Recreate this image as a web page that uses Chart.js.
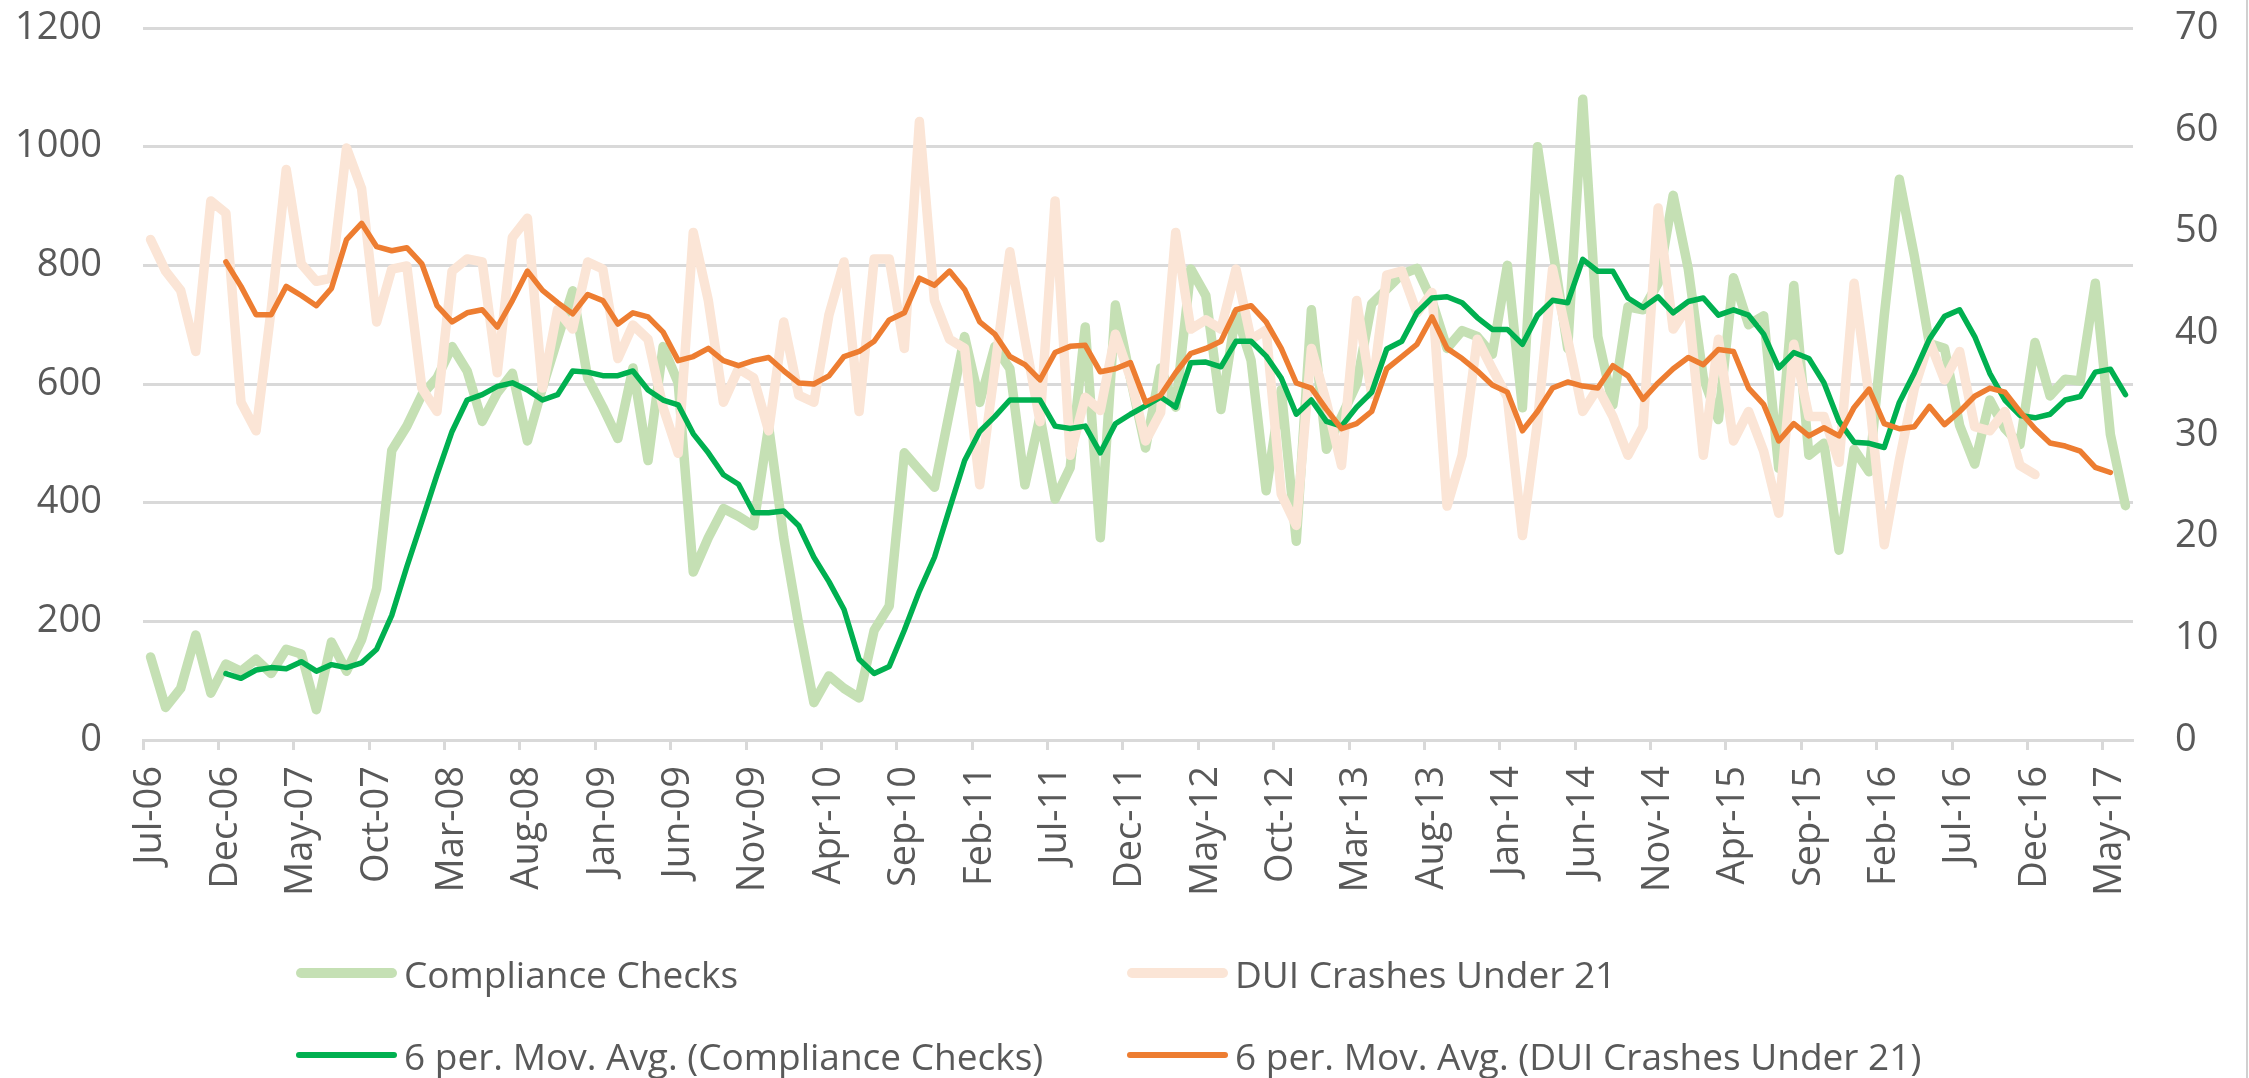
<!DOCTYPE html>
<html>
<head>
<meta charset="utf-8">
<script src="https://cdn.jsdelivr.net/npm/chart.js@4.4.1/dist/chart.umd.min.js"></script>
<style>
  html, body { margin: 0; padding: 0; background: #fff; }
  #wrap { position: relative; width: 2249px; height: 1078px; overflow: hidden; }
  #chart { position: absolute; left: 0; top: 0; }
  .edge { position: absolute; left: 2246px; top: 0; width: 2px; height: 1078px; background: #d0d0d0; }
  .lg-line { position: absolute; border-radius: 6px; }
  .lg-text { position: absolute; font-family: "Open Sans", "Noto Sans", sans-serif; font-size: 37px;
             color: #595959; white-space: nowrap; transform: translateY(-50%); line-height: 1; }
</style>
</head>
<body>
<div id="wrap">
  <canvas id="chart" width="2249" height="1078"></canvas>
  <div class="edge"></div>
  <div id="legend"></div>
</div>
<script>
// months Jul-06 .. Jun-17
const monthNames = ["Jan", "Feb", "Mar", "Apr", "May", "Jun", "Jul", "Aug", "Sep", "Oct", "Nov", "Dec"];
const startMonth = 6, startYear = 2006, monthCount = 132;

const complianceChecks = [
  140, 55, 87, 177, 79, 128, 116, 136, 112, 153,
  145, 51, 165, 116, 169, 255, 488, 529, 582, 610,
  663, 622, 537, 585, 618, 504, 594, 676, 757, 610,
  561, 508, 627, 471, 663, 602, 283, 341, 390, 377,
  361, 528, 341, 194, 63, 108, 87, 71, 185, 226,
  484, 455, 426, 553, 680, 569, 663, 626, 430, 545,
  406, 459, 696, 341, 733, 610, 492, 627, 561, 794,
  749, 557, 720, 640, 420, 590, 335, 725, 490, 545,
  600, 735, 760, 785, 795, 740, 660, 690, 680, 650,
  800, 560, 1000, 830, 660, 1080, 680, 565, 730, 725,
  770, 918, 794, 610, 540, 779, 700, 715, 458, 766,
  480, 500, 320, 490, 452, 715, 945, 815, 668, 660,
  530, 465, 573, 525, 498, 670, 580, 608, 605, 770,
  515, 395
];

const duiCrashes = [
  49.2, 46.1, 44.2, 38.2, 53.0, 51.8, 33.2, 30.4, 42.3, 56.1,
  46.8, 45.1, 45.4, 58.2, 54.2, 41.1, 46.3, 46.6, 34.6, 32.3,
  46.1, 47.3, 47.0, 36.1, 49.4, 51.3, 34.6, 42.3, 40.4, 47.0,
  46.3, 37.5, 40.8, 39.4, 32.7, 28.2, 49.9, 43.2, 33.2, 36.5,
  35.6, 30.4, 41.1, 33.9, 33.2, 41.8, 47.0, 32.3, 47.3, 47.3,
  38.5, 60.8, 43.2, 39.4, 38.5, 25.1, 36.5, 48.0, 39.4, 31.3,
  53.0, 28.0, 33.7, 32.4, 39.9, 35.6, 29.4, 32.2, 49.9, 40.4,
  41.3, 40.4, 46.3, 39.4, 40.3, 24.2, 21.1, 38.5, 33.2, 27.0,
  43.2, 34.0, 45.7, 46.1, 42.0, 44.0, 23.0, 28.0, 39.4, 36.5,
  33.7, 20.1, 31.3, 46.3, 39.4, 32.3, 34.6, 31.8, 28.0, 30.8,
  52.3, 40.4, 42.7, 28.0, 39.4, 29.4, 32.3, 28.4, 22.3, 38.9,
  31.8, 31.8, 27.3, 44.9, 33.7, 19.2, 27.5, 34.6, 39.2, 35.4,
  38.2, 30.8, 30.4, 32.3, 27.0, 26.1
];

// 6 per. moving averages as drawn (first five months empty)
const complianceAvg = [
  null, null, null, null, null, 112, 104, 118, 122, 120,
  132, 116, 127, 122, 130, 153, 210, 292, 369, 447,
  520, 573, 582, 596, 602, 590, 573, 582, 622, 620,
  614, 614, 622, 590, 573, 565, 516, 484, 447, 431,
  383, 383, 386, 361, 308, 267, 220, 136, 112, 124,
  185, 251, 308, 390, 471, 520, 545, 573, 573, 573,
  529, 525, 529, 484, 533, 549, 563, 578, 561, 636,
  637, 629, 672, 672, 647, 610, 549, 573, 537, 529,
  561, 586, 659, 672, 720, 745, 747, 737, 712, 692,
  692, 667, 716, 741, 737, 810, 790, 790, 745, 729,
  747, 720, 739, 745, 716, 725, 716, 684, 627, 653,
  643, 602, 537, 502, 500, 493, 569, 619, 676, 714,
  725, 680, 618, 573, 547, 543, 549, 573, 579, 620,
  625, 582
];

const duiAvg = [
  null, null, null, null, null, 47.0, 44.6, 41.8, 41.8, 44.6,
  43.7, 42.7, 44.4, 49.2, 50.8, 48.5, 48.1, 48.4, 46.8, 42.7,
  41.1, 42.0, 42.3, 40.6, 43.2, 46.1, 44.2, 43.0, 41.9, 43.8,
  43.2, 40.9, 42.0, 41.6, 40.1, 37.3, 37.7, 38.5, 37.3, 36.8,
  37.3, 37.6, 36.3, 35.1, 35.0, 35.8, 37.7, 38.2, 39.2, 41.3,
  42.0, 45.4, 44.7, 46.1, 44.3, 41.1, 39.9, 37.7, 36.9, 35.4,
  38.1, 38.7, 38.8, 36.2, 36.5, 37.1, 33.2, 33.9, 36.1, 38.0,
  38.5, 39.2, 42.3, 42.7, 41.1, 38.5, 35.1, 34.6, 32.5, 30.6,
  31.1, 32.3, 36.5, 37.7, 38.9, 41.6, 38.5, 37.5, 36.3, 34.9,
  34.2, 30.4, 32.3, 34.6, 35.2, 34.8, 34.6, 36.8, 35.8, 33.5,
  35.1, 36.5, 37.6, 36.9, 38.4, 38.2, 34.6, 33.0, 29.4, 31.1,
  29.9, 30.7, 29.9, 32.7, 34.5, 31.1, 30.6, 30.8, 32.8, 31.0,
  32.3, 33.8, 34.6, 34.2, 32.3, 30.6, 29.2, 28.9, 28.4, 26.8,
  26.3
];

const leftTicks = { min: 0, max: 1200, step: 200 };
const rightTicks = { min: 0, max: 70, step: 10 };
const labelEvery = 5;

const seriesNames = [
  "Compliance Checks",
  "DUI Crashes Under 21",
  "6 per. Mov. Avg. (Compliance Checks)",
  "6 per. Mov. Avg. (DUI Crashes Under 21)"
];
const seriesColors = ["#C5E0B4", "#FBE5D6", "#00B050", "#ED7D31"];

const labels = [];
for (let k = 0; k < monthCount; k++) {
  const m = (startMonth + k) % 12;
  const y = startYear + Math.floor((startMonth + k) / 12);
  labels.push(monthNames[m] + "-" + String(y % 100).padStart(2, "0"));
}

const tickFont = { family: "'Open Sans', 'Noto Sans', sans-serif", size: 38 };
const gridGray = "#D9D9D9";
const textGray = "#595959";

const lineStyle = {
  pointRadius: 0,
  pointHoverRadius: 0,
  tension: 0,
  borderJoinStyle: "round",
  borderCapStyle: "round",
  fill: false,
};

// keep the plot box where the source has it
function noPad(scale) {
  scale.paddingTop = 0;
  scale.paddingBottom = 0;
}

new Chart(document.getElementById("chart").getContext("2d"), {
  type: "line",
  data: {
    labels: labels,
    datasets: [
      { ...lineStyle, label: seriesNames[0], data: complianceChecks, yAxisID: "y",
        borderColor: seriesColors[0], borderWidth: 9.5, order: 3 },
      { ...lineStyle, label: seriesNames[1], data: duiCrashes, yAxisID: "y2",
        borderColor: seriesColors[1], borderWidth: 9.5, order: 2 },
      { ...lineStyle, label: seriesNames[2], data: complianceAvg, yAxisID: "y",
        borderColor: seriesColors[2], borderWidth: 5.5, order: 1 },
      { ...lineStyle, label: seriesNames[3], data: duiAvg, yAxisID: "y2",
        borderColor: seriesColors[3], borderWidth: 5.5, order: 0 },
    ],
  },
  options: {
    responsive: false,
    animation: false,
    devicePixelRatio: 1,
    layout: { padding: { top: 28, left: 0, right: 0, bottom: 0 } },
    plugins: { legend: { display: false }, tooltip: { enabled: false } },
    scales: {
      x: {
        type: "category",
        offset: true,
        grid: {
          offset: true,
          drawOnChartArea: false,
          drawTicks: true,
          tickLength: 10,
          tickWidth: 3,
          tickColor: (ctx) => (ctx.index !== undefined && ctx.index % labelEvery === 0 ? gridGray : "rgba(0,0,0,0)"),
        },
        border: { display: true, color: gridGray, width: 3 },
        ticks: {
          autoSkip: false,
          maxRotation: 90,
          minRotation: 90,
          padding: 16,
          color: textGray,
          font: tickFont,
          callback: (val, idx) => (idx % labelEvery === 0 ? labels[idx] : ""),
        },
        afterFit: (scale) => { scale.height = 338; scale.paddingLeft = 0; scale.paddingRight = 0; },
      },
      y: {
        position: "left",
        min: leftTicks.min,
        max: leftTicks.max,
        grid: { color: gridGray, lineWidth: 3, drawTicks: false },
        border: { display: false },
        ticks: { stepSize: leftTicks.step, padding: 41, color: textGray, font: tickFont,
                 callback: (v) => String(v) },
        afterFit: (scale) => { scale.width = 143; noPad(scale); },
      },
      y2: {
        position: "right",
        min: rightTicks.min,
        max: rightTicks.max,
        grid: { drawOnChartArea: false, drawTicks: false },
        border: { display: false },
        ticks: { stepSize: rightTicks.step, padding: 42, color: textGray, font: tickFont,
                 callback: (v) => String(v) },
        afterFit: (scale) => { scale.width = 116; noPad(scale); },
      },
    },
  },
});

// legend laid out in two columns, like the source
const legendBox = document.getElementById("legend");
const legendCols = [296, 1127];
const legendRows = [973, 1055];
const legendWidths = [10, 10, 6, 6];
seriesNames.forEach((name, i) => {
  const col = legendCols[i % 2];
  const row = legendRows[Math.floor(i / 2)];
  const w = legendWidths[i];
  const line = document.createElement("div");
  line.className = "lg-line";
  line.style.left = col + "px";
  line.style.top = (row - w / 2) + "px";
  line.style.width = "101px";
  line.style.height = w + "px";
  line.style.background = seriesColors[i];
  legendBox.appendChild(line);
  const text = document.createElement("div");
  text.className = "lg-text";
  text.style.left = (col + 108) + "px";
  text.style.top = row + "px";
  text.textContent = name;
  legendBox.appendChild(text);
});
</script>
</body>
</html>
